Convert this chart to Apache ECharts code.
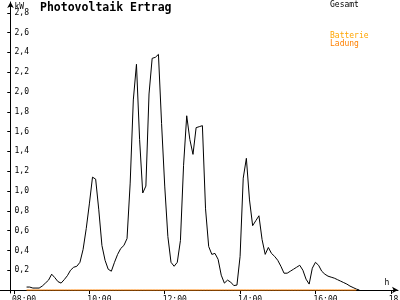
<!DOCTYPE html>
<html><head><meta charset="utf-8">
<script src="https://cdn.jsdelivr.net/npm/echarts@6/dist/echarts.min.js"></script>
<style>html,body{margin:0;padding:0;background:#fff}#c{width:400px;height:300px}</style>
</head><body><div id="c"></div>
<script>
const times = [
 '08:20','08:25','08:30','08:35','08:40','08:45','08:50','08:55',
 '09:00','09:05','09:10','09:15','09:20','09:25','09:30','09:35','09:40','09:45','09:50','09:55',
 '10:00','10:05','10:10','10:15','10:20','10:25','10:30','10:35','10:40','10:45','10:50','10:55',
 '11:00','11:05','11:10','11:15','11:20','11:25','11:30','11:35','11:40','11:45','11:50','11:55',
 '12:00','12:05','12:10','12:15','12:20','12:25','12:30','12:35','12:40','12:45','12:50','12:55',
 '13:00','13:05','13:10','13:15','13:20','13:25','13:30','13:35','13:40','13:45','13:50','13:55',
 '14:00','14:05','14:10','14:15','14:20','14:25','14:30','14:35','14:40','14:45','14:50','14:55',
 '15:00','15:05','15:10','15:15','15:20','15:25','15:30','15:35','15:40','15:45','15:50','15:55',
 '16:00','16:05','16:10','16:15','16:20','16:25','16:30','16:35','16:40','16:45','16:50','16:55',
 '17:00','17:05','17:10'
];
const gesamt = [
 0.03,0.03,0.02,0.02,0.02,0.04,0.07,0.10,
 0.16,0.125,0.085,0.07,0.105,0.145,0.20,0.23,0.24,0.28,0.41,0.62,
 0.87,1.14,1.12,0.81,0.45,0.30,0.21,0.19,0.28,0.36,0.42,0.45,
 0.52,1.08,1.92,2.28,1.52,0.98,1.05,1.98,2.34,2.35,2.38,1.68,
 1.05,0.54,0.28,0.24,0.28,0.50,1.26,1.76,1.52,1.37,1.64,1.65,
 1.66,0.82,0.44,0.36,0.37,0.31,0.15,0.07,0.10,0.08,0.045,0.05,
 0.34,1.13,1.33,0.91,0.65,0.70,0.75,0.51,0.36,0.43,0.37,0.34,
 0.30,0.24,0.17,0.17,0.19,0.21,0.23,0.25,0.20,0.11,0.06,0.22,
 0.28,0.25,0.19,0.16,0.14,0.13,0.12,0.105,0.09,0.075,0.06,0.04,
 0.025,0.01,0
];
const batterieLadung = [
 0,0,0,0,0,0,0,0,
 0,0,0,0,0,0,0,0,0,0,0,0,
 0,0,0,0,0,0,0,0,0,0,0,0,
 0,0,0,0,0,0,0,0,0,0,0,0,
 0,0,0,0,0,0,0,0,0,0,0,0,
 0,0,0,0,0,0,0,0,0,0,0,0,
 0,0,0,0,0,0,0,0,0,0,0,0,
 0,0,0,0,0,0,0,0,0,0,0,0,
 0,0,0,0,0,0,0,0,0,0,0,0,
 0,0
];
const xTickLabels = ['08:00', '10:00', '12:00', '14:00', '16:00', '18:00'];
const yTicks = [0.2, 0.4, 0.6, 0.8, 1.0, 1.2, 1.4, 1.6, 1.8, 2.0, 2.2, 2.4, 2.6, 2.8];
const yTickLabels = ['0,2','0,4','0,6','0,8','1,0','1,2','1,4','1,6','1,8','2,0','2,2','2,4','2,6','2,8'];

// x values are hours measured from the time where the y axis crosses the time axis
const AXIS_ORIGIN_H = 7.907;
const toHours = s => { const p = s.split(':').map(Number); return p[0] + p[1] / 60 - AXIS_ORIGIN_H; };
const xTicks = xTickLabels.map(toHours);
const FONT = 'DejaVu Sans Mono';
const X_MIN = -0.2787, X_MAX = 10.284, Y_MIN = -0.03, Y_MAX = 2.909;

const chart = echarts.init(document.getElementById('c'), null, {renderer: 'canvas'});
chart.setOption({
  animation: false,
  backgroundColor: '#fff',
  title: {
    text: 'Photovoltaik Ertrag', left: 40, top: 2, padding: 0,
    textStyle: {fontFamily: FONT, fontSize: 11.5, fontWeight: 'bold', color: '#000'}
  },
  legend: {
    orient: 'vertical', left: 325, top: 1, icon: 'none', itemWidth: 0, itemHeight: 8,
    itemGap: 23, selectedMode: false, padding: 0,
    data: ['Gesamt', 'Batterie Ladung'],
    formatter: n => n === 'Gesamt' ? '{g|Gesamt}' : '{b|Batterie}\n{l|Ladung}',
    textStyle: {
      fontFamily: FONT, fontSize: 8,
      rich: {
        g: {fontFamily: FONT, fontSize: 8, lineHeight: 8, color: '#000'},
        b: {fontFamily: FONT, fontSize: 8, lineHeight: 8, color: '#ffa500'},
        l: {fontFamily: FONT, fontSize: 8, lineHeight: 8, color: '#ff8000'}
      }
    }
  },
  grid: {left: 0, right: 2, top: 2, bottom: 7, containLabel: false, outerBoundsMode: 'none'},
  xAxis: [{
    type: 'value', min: X_MIN, max: X_MAX,
    name: 'h', nameLocation: 'end', nameGap: -11, nameMoveOverlap: false,
    nameTextStyle: {fontFamily: FONT, fontSize: 8, color: '#000', align: 'center', verticalAlign: 'bottom', padding: [0, 0, 3, 0]},
    axisLine: {show: true, onZero: true, symbol: ['none', 'arrow'], symbolSize: [5, 6], lineStyle: {color: '#000', width: 1}},
    axisTick: {show: true, customValues: xTicks, length: 4, inside: false, lineStyle: {color: '#000'}},
    axisLabel: {
      show: true, customValues: xTicks, margin: 3, align: 'left', padding: [0, 0, 0, -2],
      hideOverlap: false, showMaxLabel: true, alignMaxLabel: 'left',
      fontFamily: FONT, fontSize: 8, color: '#000',
      formatter: v => {
        let best = 0;
        xTicks.forEach((t, i) => { if (Math.abs(t - v) < Math.abs(xTicks[best] - v)) best = i; });
        return xTickLabels[best];
      }
    },
    splitLine: {show: false}
  }, {
    type: 'value', min: X_MIN, max: X_MAX, show: false
  }],
  yAxis: [{
    type: 'value', min: Y_MIN, max: Y_MAX,
    name: 'kW', nameLocation: 'end', nameGap: -9, nameMoveOverlap: false,
    nameTextStyle: {fontFamily: FONT, fontSize: 8, color: '#000', align: 'left', verticalAlign: 'bottom', padding: [0, 0, 0, 4]},
    axisLine: {show: true, onZero: true, symbol: ['none', 'arrow'], symbolSize: [5, 6], lineStyle: {color: '#000', width: 1}},
    axisTick: {show: true, customValues: yTicks, length: 3, inside: false, lineStyle: {color: '#000'}},
    axisLabel: {
      show: true, inside: true, customValues: yTicks, margin: 14.5, align: 'left',
      hideOverlap: false,
      fontFamily: FONT, fontSize: 8, color: '#000',
      formatter: v => yTickLabels[Math.round(v * 5) - 1]
    },
    splitLine: {show: false}
  }, {
    type: 'value', min: Y_MIN, max: Y_MAX,
    axisLine: {show: false, onZero: true, onZeroAxisIndex: 1},
    axisTick: {show: true, customValues: yTicks, length: 3, inside: true, lineStyle: {color: '#000'}},
    axisLabel: {show: false},
    splitLine: {show: false}
  }],
  series: [{
    name: 'Gesamt', type: 'line', showSymbol: false, symbol: 'none',
    lineStyle: {color: '#000', width: 1}, itemStyle: {color: '#000'},
    data: times.map((t, i) => [toHours(t), gesamt[i]]),
    z: 3
  }, {
    name: 'Batterie Ladung', type: 'line', showSymbol: false, symbol: 'none',
    lineStyle: {color: '#ff8000', width: 1}, itemStyle: {color: '#ff8000'},
    data: batterieLadung.map((v, i) => [toHours(times[i]), v]),
    z: 4
  }]
});
</script>
</body></html>
